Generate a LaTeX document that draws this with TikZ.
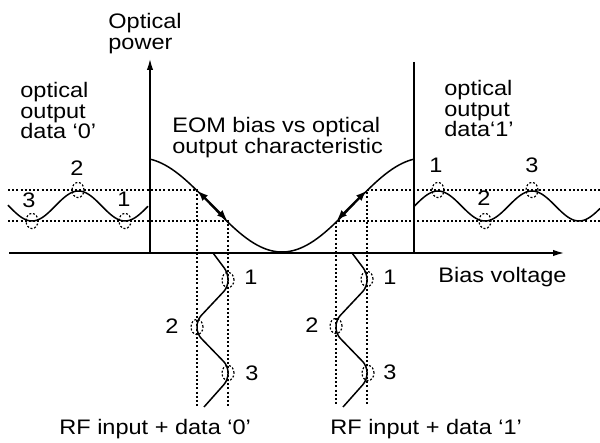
\documentclass[tikz,border=0pt]{standalone}
\usepackage{fontspec}
\setmainfont{Liberation Sans}[FakeStretch=1.12]
\usetikzlibrary{arrows.meta}
\begin{document}
\begin{tikzpicture}[x=0.5pt,y=-0.5pt,
  txt/.style={inner sep=0pt, anchor=north west, align=left, font=\fontsize{10.5}{10.25}\selectfont},
  num/.style={inner sep=0pt, font=\fontsize{10.5}{10.5}\selectfont},
  dotl/.style={line width=0.7pt, dash pattern=on 1pt off 1.1pt},
  dcirc/.style={line width=0.6pt, dash pattern=on 1pt off 0.9pt},
  wave/.style={line width=0.75pt},
  axisl/.style={line width=1pt},
  tip/.style={-{Latex[length=6pt,width=3.2pt]}},
  dtip/.style={line width=1pt,{Latex[length=5pt,width=4pt]}-{Latex[length=5pt,width=4pt]}},
]
\useasboundingbox (0,0) rectangle (600,443);

% coordinates
\coordinate (origin) at (150,253);
\coordinate (ytop) at (150,58);
\coordinate (xleft) at (9,253);
\coordinate (xright) at (565,253);
\coordinate (rtop) at (414,62);
\coordinate (rbot) at (414,253);

% dotted guide lines
\coordinate (lu0) at (8,190);   \coordinate (lu1) at (197,190);
\coordinate (ll0) at (8,221);   \coordinate (ll1) at (228,221);
\coordinate (ru0) at (367,190); \coordinate (ru1) at (600,190);
\coordinate (rl0) at (336,221); \coordinate (rl1) at (600,221);
\coordinate (v1b) at (197,407); \coordinate (v2b) at (228,407);
\coordinate (v3b) at (336,405); \coordinate (v4b) at (367,405);

\draw[dotl] (lu0) -- (lu1) -- (v1b);
\draw[dotl] (ll0) -- (ll1) -- (v2b);
\draw[dotl] (ru1) -- (ru0) -- (v4b);
\draw[dotl] (rl1) -- (rl0) -- (v3b);

% axes
\draw[axisl,tip] (origin) -- (ytop);
\draw[axisl,tip] (xleft) -- (xright);
\draw[line width=0.8pt] (rtop) -- (rbot);

% EOM characteristic
\draw[wave] plot[domain=150:414, samples=90, smooth] (\x, {252-47*(1-cos((\x-282)*1.26761))});
\coordinate (la) at (198,191); \coordinate (lb) at (227,220);
\coordinate (ra) at (337,220); \coordinate (rb) at (366,191);
\draw[dtip] (la) -- (lb);
\draw[dtip] (ra) -- (rb);

% optical outputs
\draw[wave] plot[domain=8:148, samples=80, smooth] (\x, {206+15*cos((\x-32)*3.87097)});
\draw[wave] plot[domain=414:600, samples=100, smooth] (\x, {206-15*cos((\x-438)*3.82979)});

% RF inputs
\draw[wave, rounded corners=3pt] (213,253) -- (228,273) -- (228,287) -- (197,320) -- (197,334) -- (228,366) -- (228,380) -- (204,407);
\draw[wave, rounded corners=3pt] (352,253) -- (367,273) -- (367,287) -- (336,320) -- (336,334) -- (367,366) -- (367,380) -- (343,407);

% dashed circles
\foreach \p in {(32,221),(78,190),(125,221),(438,190),(485,221),(532,190),(228,280),(197,327),(228,373),(367,279),(336,326),(368,373)}
  \draw[dcirc] \p ellipse [x radius=3pt, y radius=3.8pt];

% numbers
\node[num] (o03) at (29,200) {3};
\node[num] (o02) at (77,168) {2};
\node[num] (o01) at (124,199) {1};
\node[num] (o11) at (436,165) {1};
\node[num] (o12) at (484,198) {2};
\node[num] (o13) at (532,165) {3};
\node[num] (r01) at (251,277) {1};
\node[num] (r02) at (172,326) {2};
\node[num] (r03) at (252,373) {3};
\node[num] (r11) at (390,277) {1};
\node[num] (r12) at (312,325) {2};
\node[num] (r13) at (390,372) {3};

% texts
\node[txt] (power) at (108,13) {Optical\\power};
\node[txt] (out0) at (20,82) {optical\\output\\data ‘0’};
\node[txt] (eom) at (172,117) {EOM bias vs optical\\output characteristic};
\node[txt] (out1) at (444,80) {optical\\output\\data‘1’};
\node[txt] (bias) at (438,267) {Bias voltage};
\node[txt] (rf0) at (59,419) {RF input + data ‘0’};
\node[txt] (rf1) at (330,419) {RF input + data ‘1’};
\end{tikzpicture}
\end{document}
